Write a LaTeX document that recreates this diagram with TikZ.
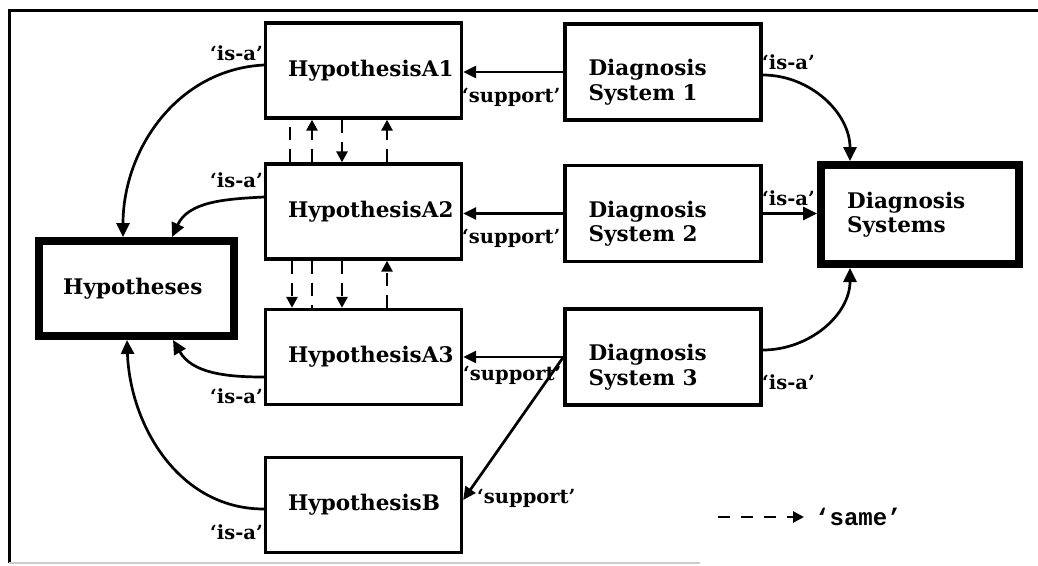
\documentclass[tikz,border=0pt]{standalone}
\usepackage{fontspec}
\setmainfont{DejaVu Serif}
\newfontfamily\legendmono{Liberation Mono}
\usetikzlibrary{arrows.meta}

\begin{document}
\begin{tikzpicture}[x=1pt,y=-1pt,
  boxfont/.style={font=\fontsize{21.5}{24.5}\selectfont\bfseries},
  hyp/.style={draw, line width=3.3pt, minimum width=196pt, minimum height=95pt, inner sep=0pt, boxfont},
  diag/.style={hyp, minimum height=96pt},
  bigbox/.style={draw, line width=8pt, inner sep=0pt, boxfont},
  boxtext/.style={anchor=west, inner sep=0pt, xshift=24pt, boxfont},
  rel/.style={font=\fontsize{19.5}{22}\selectfont\bfseries, inner sep=0pt},
  isa/.style={line width=2.7pt, -{Triangle[length=14pt,width=13pt]}},
  sup/.style={line width=2.7pt, -{Triangle[length=13pt,width=12pt]}},
  same/.style={line width=2.7pt, dash pattern=on 13pt off 9pt},
  samearr/.style={same, -{Triangle[length=11pt,width=11pt]}}]

\useasboundingbox (0,0) rectangle (1038,565);

% frame
\draw[line width=3pt] (9,563) -- (9,10) -- (1038,10);
\draw[line width=1.5pt, black!20] (9,563) -- (700,563);

% hypothesis boxes
\node[hyp, label={[boxtext]west:HypothesisA1}] (a1) at (363.5,70.5) {};
\node[hyp, label={[boxtext]west:HypothesisA2}] (a2) at (363.5,211.5) {};
\node[hyp, label={[boxtext]west:HypothesisA3}] (a3) at (363.5,357) {};
\node[hyp, label={[boxtext]west:HypothesisB}] (b) at (363.5,505) {};

% diagnosis system boxes
\node[diag, label={[boxtext, xshift=1pt, yshift=-10pt, align=left]west:{Diagnosis\\System 1}}] (ds1) at (663,72) {};
\node[diag, label={[boxtext, xshift=1pt, yshift=-10pt, align=left]west:{Diagnosis\\System 2}}] (ds2) at (663,213.5) {};
\node[diag, label={[boxtext, xshift=1pt, yshift=-10pt, align=left]west:{Diagnosis\\System 3}}] (ds3) at (663,357) {};

% class boxes
\node[bigbox, minimum width=195pt, minimum height=95pt,
      label={[boxtext, xshift=4pt]west:Hypotheses}] (hyps) at (136.5,288.5) {};
\node[bigbox, minimum width=198pt, minimum height=99pt,
      label={[boxtext, xshift=6pt, align=left]west:{Diagnosis\\Systems}}] (dss) at (920,214.5) {};

% 'support' links
\draw[sup] (ds1.west) -- (ds1.west -| a1.east);
\draw[sup] (ds2.west) -- (ds2.west -| a2.east);
\draw[sup] (ds3.west) -- (ds3.west -| a3.east);
\draw[sup] (ds3.west) -- ([yshift=5pt]b.east);

% 'is-a' links to Hypotheses
\draw[isa] ([yshift=5.5pt]a1.west) to[out=183, in=90] ([xshift=-13.5pt]hyps.north);
\draw[isa] ([yshift=14.5pt]a2.west) to[out=183, in=65] ([xshift=35.5pt]hyps.north);
\draw[isa] ([yshift=-20pt]a3.west) to[out=180, in=-60] ([xshift=36.5pt]hyps.south);
\draw[isa] ([yshift=-4pt]b.west) to[out=180, in=-88] ([xshift=-9.5pt]hyps.south);

% 'is-a' links to Diagnosis Systems
\draw[isa] ([yshift=-3pt]ds1.east) to[out=0, in=90] ([xshift=-70pt]dss.north);
\draw[isa] (ds2.east) -- (ds2.east -| dss.west);
\draw[isa] ([yshift=7pt]ds3.east) to[out=0, in=-90] ([xshift=-70pt]dss.south);

% 'same' links between A1 and A2
\draw[same]    ([xshift=-73.5pt]a2.north) -- ([xshift=-73.5pt]a1.south);
\draw[samearr] ([xshift=-51.5pt]a2.north) -- ([xshift=-51.5pt]a1.south);
\draw[samearr] ([xshift=-21.5pt]a1.south) -- ([xshift=-21.5pt]a2.north);
\draw[samearr] ([xshift=23.5pt]a2.north) -- ([xshift=23.5pt]a1.south);

% 'same' links between A2 and A3
\draw[samearr] ([xshift=-71.5pt]a2.south) -- ([xshift=-71.5pt]a3.north);
\draw[same]    ([xshift=-51.5pt]a2.south) -- ([xshift=-51.5pt]a3.north);
\draw[samearr] ([xshift=-21.5pt]a2.south) -- ([xshift=-21.5pt]a3.north);
\draw[samearr] ([xshift=23.5pt]a3.north) -- ([xshift=23.5pt]a2.south);

% relation labels
\node[rel, anchor=east] (l1) at (263,53) {‘is-a’};
\node[rel, anchor=east] (l2) at (263,180) {‘is-a’};
\node[rel, anchor=east] (l3) at (263,396) {‘is-a’};
\node[rel, anchor=east] (l4) at (263,532) {‘is-a’};
\node[rel, anchor=west] (l5) at (762,62) {‘is-a’};
\node[rel, anchor=west] (l6) at (762,198) {‘is-a’};
\node[rel, anchor=west] (l7) at (762,382) {‘is-a’};
\node[rel, anchor=west] (s1) at (462,97) {‘support’};
\node[rel, anchor=west] (s2) at (462,238) {‘support’};
\node[rel, anchor=west] (s3) at (463,375) {‘support’};
\node[rel, anchor=west] (s4) at (477,498) {‘support’};

% legend
\coordinate (legA) at (718,517);
\coordinate (legB) at (804,517);
\draw[samearr, dash pattern=on 12pt off 11pt] (legA) -- (legB);
\node[anchor=west, inner sep=0pt, font={\legendmono\fontsize{24}{26}\selectfont\bfseries}] (legtext) at (815,517) {‘same’};
\end{tikzpicture}
\end{document}
